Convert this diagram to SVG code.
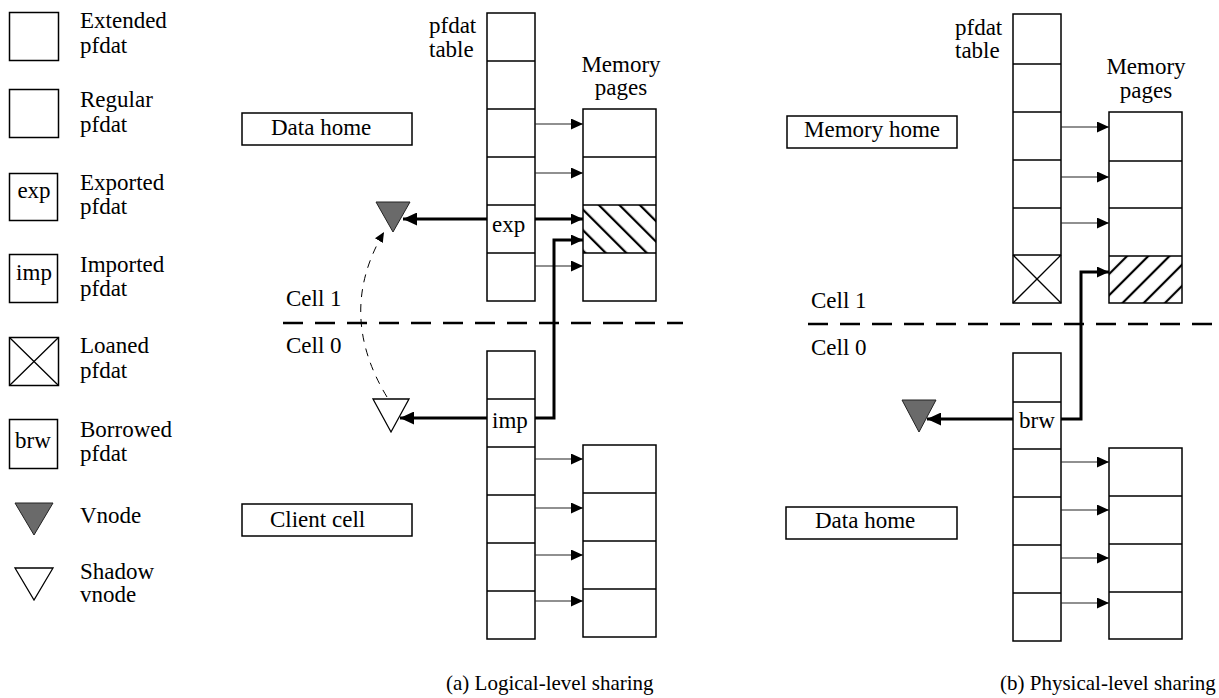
<svg xmlns="http://www.w3.org/2000/svg" width="1219" height="698" viewBox="0 0 1219 698">
<style>
text{font-family:"Liberation Serif","Times New Roman",serif;font-size:23px;fill:#000}
.cap{font-size:21px}
.mid{text-anchor:middle}
.box{fill:#fff;stroke:#000;stroke-width:1.5}
.open{fill:none;stroke:#000;stroke-width:1.5}
.div{stroke:#000;stroke-width:1.3}
.thin{stroke:#222;stroke-width:1.1;fill:none}
.thick{stroke:#000;stroke-width:3;fill:none}
.vn{fill:#6a6a6a;stroke:#222;stroke-width:1}
.sv{fill:#fff;stroke:#000;stroke-width:1.3}
.cell{stroke:#000;stroke-width:2.6;stroke-dasharray:20 12;fill:none}
.curve{stroke:#000;stroke-width:1;stroke-dasharray:8 7;fill:none}
</style>
<defs>
<marker id="ah" markerUnits="userSpaceOnUse" markerWidth="12" markerHeight="11" refX="12" refY="5.5" orient="auto"><path d="M0,0 L12,5.5 L0,11 z" fill="#000"/></marker>
<marker id="ahb" markerUnits="userSpaceOnUse" markerWidth="14" markerHeight="13" refX="14" refY="6.5" orient="auto"><path d="M0,0 L14,6.5 L0,13 z" fill="#000"/></marker>
<marker id="ahs" markerUnits="userSpaceOnUse" markerWidth="10" markerHeight="9" refX="10" refY="4.5" orient="auto"><path d="M0,0 L10,4.5 L0,9 z" fill="#000"/></marker>
<pattern id="hatchA" width="14.5" height="20" patternUnits="userSpaceOnUse" patternTransform="rotate(-45)"><line x1="3" y1="0" x2="3" y2="20" stroke="#000" stroke-width="2.2"/></pattern>
<pattern id="hatchB" width="15" height="20" patternUnits="userSpaceOnUse" patternTransform="rotate(45)"><line x1="3" y1="0" x2="3" y2="20" stroke="#000" stroke-width="2.2"/></pattern>
</defs>

<g id="legend">
<g id="leg-extended"><rect class="box" x="9.5" y="12.5" width="49" height="48"/><text x="80" y="28">Extended</text><text x="80" y="53">pfdat</text></g>
<g id="leg-regular"><rect class="box" x="9.5" y="89.5" width="49" height="48"/><text x="80" y="107">Regular</text><text x="80" y="132">pfdat</text></g>
<g id="leg-exported"><rect class="box" x="9.5" y="173.5" width="48" height="47"/><text class="mid" x="34" y="198">exp</text><text x="80" y="190">Exported</text><text x="80" y="214">pfdat</text></g>
<g id="leg-imported"><rect class="box" x="9.5" y="254.5" width="48" height="48"/><text class="mid" x="34" y="280">imp</text><text x="80" y="272">Imported</text><text x="80" y="296">pfdat</text></g>
<g id="leg-loaned"><rect class="box" x="9.5" y="337.5" width="49" height="48"/><path class="div" d="M9.5,337.5 L58.5,385.5 M58.5,337.5 L9.5,385.5"/><text x="80" y="353">Loaned</text><text x="80" y="378">pfdat</text></g>
<g id="leg-borrowed"><rect class="box" x="9.5" y="419.5" width="48" height="49"/><text class="mid" x="33" y="448">brw</text><text x="80" y="437">Borrowed</text><text x="80" y="461">pfdat</text></g>
<g id="leg-vnode"><polygon class="vn" points="15,503 53,503 34,535"/><text x="80" y="523">Vnode</text></g>
<g id="leg-shadow"><polygon class="sv" points="15,568 53,568 34,600"/><text x="80" y="579">Shadow</text><text x="80" y="602">vnode</text></g>
</g>

<g id="part-a">
<g id="a-data-home"><rect class="box" x="242" y="113" width="170" height="32"/><text x="271" y="135">Data home</text></g>
<g id="a-client-cell"><rect class="box" x="242" y="504" width="170" height="32"/><text x="270" y="527">Client cell</text></g>
<g id="a-cell-labels"><text x="286" y="306">Cell 1</text><text x="286" y="353">Cell 0</text></g>
<g id="a-pfdat-upper">
<text x="429" y="33">pfdat</text><text x="429" y="57">table</text>
<rect class="box" x="487" y="13" width="48" height="288"/>
<path class="div" d="M487,61H535M487,109H535M487,157H535M487,205H535M487,253H535"/>
<text x="492" y="232">exp</text>
</g>
<g id="a-mem-upper">
<text class="mid" x="621" y="72">Memory</text><text class="mid" x="621" y="95">pages</text>
<rect x="583" y="205" width="73" height="48" fill="url(#hatchA)"/>
<rect class="open" x="583" y="109" width="73" height="192"/>
<path class="div" d="M583,157H656M583,205H656M583,253H656"/>
</g>
<g id="a-pfdat-lower">
<rect class="box" x="487" y="351" width="48" height="288"/>
<path class="div" d="M487,399H535M487,447H535M487,495H535M487,543H535M487,591H535"/>
<text x="492" y="428">imp</text>
</g>
<g id="a-mem-lower">
<rect class="box" x="583" y="445" width="73" height="192"/>
<path class="div" d="M583,493H656M583,541H656M583,589H656"/>
</g>
<g id="a-vnode"><polygon class="vn" points="376,202 410,202 393,232"/></g>
<g id="a-shadow-vnode"><polygon class="sv" points="373,399 409,399 391,432"/></g>
</g>

<g id="part-b">
<g id="b-memory-home"><rect class="box" x="787" y="116" width="170" height="32"/><text x="804" y="137">Memory home</text></g>
<g id="b-data-home"><rect class="box" x="786" y="507" width="171" height="32"/><text x="815" y="528">Data home</text></g>
<g id="b-cell-labels"><text x="811" y="308">Cell 1</text><text x="811" y="355">Cell 0</text></g>
<g id="b-pfdat-upper">
<text x="955" y="35">pfdat</text><text x="955" y="58">table</text>
<rect class="box" x="1013" y="14" width="48" height="289"/>
<path class="div" d="M1013,64H1061M1013,112H1061M1013,160H1061M1013,208H1061M1013,255H1061M1013,255L1061,303M1061,255L1013,303"/>
</g>
<g id="b-mem-upper">
<text class="mid" x="1146" y="74">Memory</text><text class="mid" x="1146" y="98">pages</text>
<rect x="1109" y="256" width="73" height="47" fill="url(#hatchB)"/>
<rect class="open" x="1109" y="112" width="73" height="191"/>
<path class="div" d="M1109,161H1182M1109,208H1182M1109,256H1182"/>
</g>
<g id="b-pfdat-lower">
<rect class="box" x="1013" y="353" width="48" height="288"/>
<path class="div" d="M1013,402H1061M1013,449H1061M1013,497H1061M1013,545H1061M1013,593H1061"/>
<text x="1019" y="428">brw</text>
</g>
<g id="b-mem-lower">
<rect class="box" x="1109" y="448" width="73" height="191"/>
<path class="div" d="M1109,496H1182M1109,544H1182M1109,592H1182"/>
</g>
<g id="b-vnode"><polygon class="vn" points="902,400 936,400 919,432"/></g>
</g>

<g id="connectors">
<path class="cell" d="M283,323H683"/>
<path class="cell" d="M808,324H1212"/>
<path class="thin" marker-end="url(#ah)" d="M535,124H583"/>
<path class="thin" marker-end="url(#ah)" d="M535,173H583"/>
<path class="thin" marker-end="url(#ah)" d="M535,266H583"/>
<path class="thin" marker-end="url(#ah)" d="M535,459H583"/>
<path class="thin" marker-end="url(#ah)" d="M535,508H583"/>
<path class="thin" marker-end="url(#ah)" d="M535,555H583"/>
<path class="thin" marker-end="url(#ah)" d="M535,601H583"/>
<path class="thick" marker-end="url(#ah)" d="M535,219H583"/>
<path class="thick" marker-end="url(#ah)" d="M535,418H554V240H583"/>
<path class="thick" marker-end="url(#ahb)" d="M487,219H403"/>
<path class="thick" stroke-width="2.5" marker-end="url(#ahb)" d="M487,418H400"/>
<path class="curve" marker-end="url(#ahs)" d="M387,397Q336,313 384,232"/>
<path class="thin" marker-end="url(#ah)" d="M1061,127H1109"/>
<path class="thin" marker-end="url(#ah)" d="M1061,177H1109"/>
<path class="thin" marker-end="url(#ah)" d="M1061,223H1109"/>
<path class="thin" marker-end="url(#ah)" d="M1061,462H1109"/>
<path class="thin" marker-end="url(#ah)" d="M1061,510H1109"/>
<path class="thin" marker-end="url(#ah)" d="M1061,558H1109"/>
<path class="thin" marker-end="url(#ah)" d="M1061,603H1109"/>
<path class="thick" marker-end="url(#ah)" d="M1061,419H1081V272H1109"/>
<path class="thick" marker-end="url(#ahb)" d="M1013,419H927"/>
</g>

<g id="captions">
<text class="cap" x="446" y="690">(a) Logical-level sharing</text>
<text class="cap" x="1000" y="690">(b) Physical-level sharing</text>
</g>
</svg>
